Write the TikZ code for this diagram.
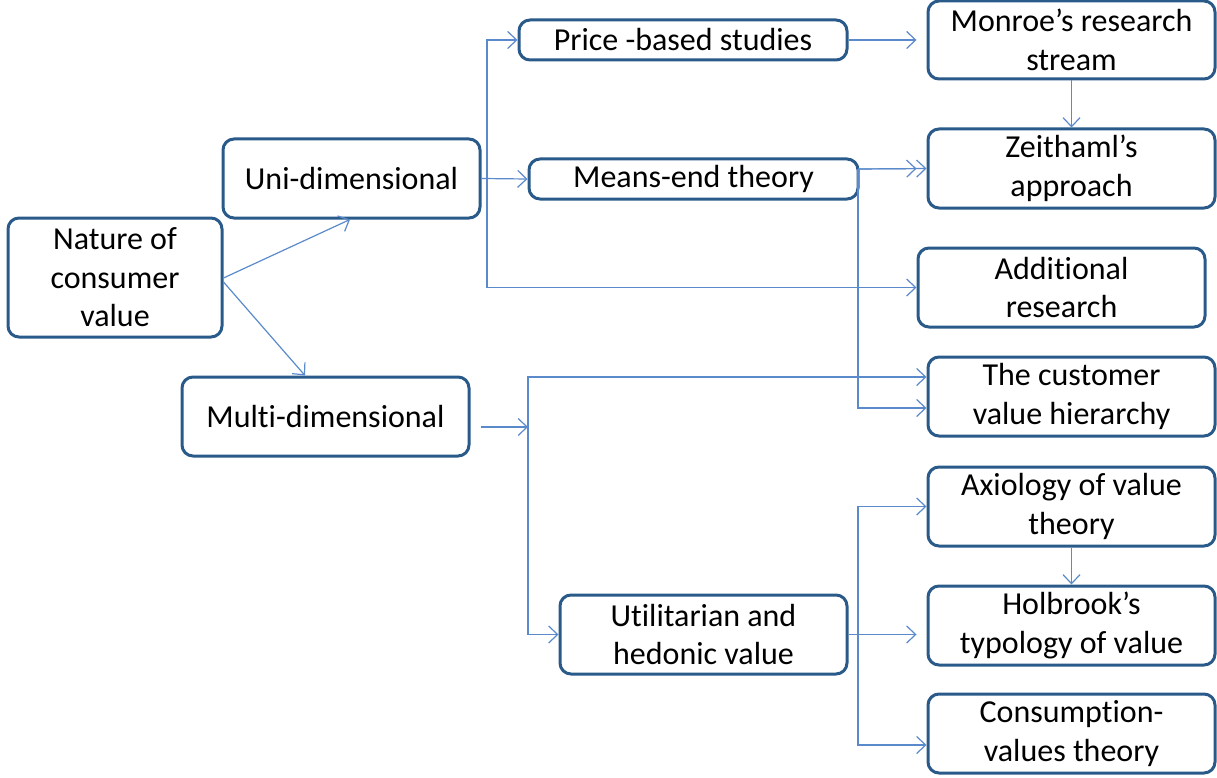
\documentclass[tikz,border=0pt]{standalone}
\usepackage{fontspec}
\setmainfont{Carlito}[Ligatures=NoCommon]
\usetikzlibrary{arrows.meta}
\definecolor{boxc}{HTML}{2A5A8A}
\definecolor{linec}{HTML}{5A8ACB}
\begin{document}
\begin{tikzpicture}[x=1pt,y=-1pt,
  box/.style={draw=boxc,line width=3pt,rounded corners=11pt,fill=white,align=center,inner sep=0pt,
    font=\fontsize{32}{38.5}\selectfont,text=black},
  arr/.style={draw=linec,line width=1.2pt,-{Straight Barb[length=9pt,width=17pt,line width=1.2pt]}},
  ln/.style={draw=linec,line width=1.2pt}]
\useasboundingbox (0,0) rectangle (1217,778);
\node[box,minimum width=214pt,minimum height=119pt] (na) at (115,277.5) {Nature of\\consumer\\value};
\node[box,minimum width=257pt,minimum height=79pt] (un) at (351.5,178.5) {Uni-dimensional};
\node[box,minimum width=287pt,minimum height=79pt] (mu) at (325.5,416.5) {Multi-dimensional};
\node[box,minimum width=328pt,minimum height=40pt] (pr) at (683,40) {Price -based studies};
\node[box,minimum width=329pt,minimum height=40pt] (me) at (693.5,179) {Means-end theory};
\node[box,minimum width=287pt,minimum height=79pt] (ut) at (703.5,634.5) {Utilitarian and\\hedonic value};
\node[box,minimum width=287pt,minimum height=78pt] (mo) at (1071.5,40) {Monroe’s research\\stream};
\node[box,minimum width=287pt,minimum height=79pt] (zt) at (1071.5,168.5) {Zeithaml’s\\approach};
\node[box,minimum width=287pt,minimum height=79pt] (ad) at (1061.5,287.5) {Additional\\research};
\node[box,minimum width=287pt,minimum height=79pt] (cu) at (1071.5,396.5) {The customer\\value hierarchy};
\node[box,minimum width=287pt,minimum height=79pt] (ax) at (1071.5,506.5) {Axiology of value\\theory};
\node[box,minimum width=287pt,minimum height=79pt] (ho) at (1071.5,625.5) {Holbrook’s\\typology of value};
\node[box,minimum width=287pt,minimum height=79pt] (co) at (1071.5,733.5) {Consumption-\\values theory};
% junctions
\coordinate (j1) at (487,179);
\coordinate (j2) at (528,427);
\coordinate (m1) at (858,169);
\coordinate (j3) at (858,634);
% Nature
\draw[arr] ([yshift=-0.5pt]na.east) -- ([xshift=-1.5pt]un.south);
\draw[arr] ([yshift=-4.5pt]na.east) -- ([xshift=-20.5pt]mu.north);
% Uni
\draw[arr] (un.east) -- (me.west);
\draw[arr] (j1) |- (pr.west);
\draw[arr] (j1) |- (ad.west);
% Price / Monroe
\draw[arr,shorten >=10pt] (pr.east) -- (mo.west);
\draw[arr] (mo.south) -- (zt.north);
% Means-end
\draw[arr] (m1) -- (zt.west);
\draw[arr,shorten >=10pt] (m1) -- (zt.west);
\draw[arr] (m1) |- ([yshift=-11.5pt]cu.west);
% Multi
\draw[arr] ([xshift=10pt,yshift=-10.5pt]mu.east) -- (j2);
\draw[arr] (j2) |- ([yshift=19.5pt]cu.west);
\draw[arr] (j2) |- (ut.west);
% Utilitarian
\draw[arr,shorten >=10pt] (ut.east) -- (ut.east -| ho.west);
\draw[arr] (j3) |- (ax.west);
\draw[arr] (j3) |- ([yshift=-11.5pt]co.west);
\draw[arr] (ax.south) -- (ho.north);
\end{tikzpicture}
\end{document}
